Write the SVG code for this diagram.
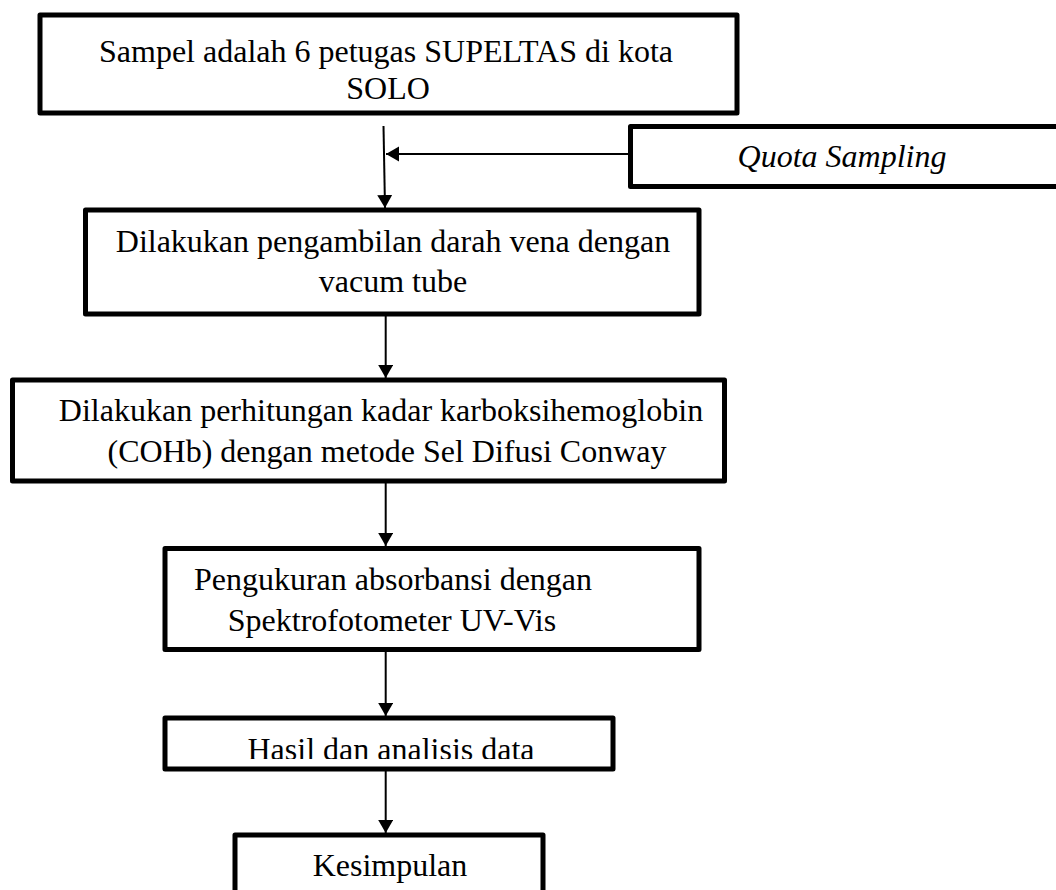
<svg xmlns="http://www.w3.org/2000/svg" width="1056" height="890" viewBox="0 0 1056 890">
<style>
.box{fill:#fff;stroke:#000;stroke-width:5;stroke-linejoin:round}
.t{font-family:"Liberation Serif","Times New Roman",serif;font-size:32px;fill:#000;text-anchor:middle}
.it{font-style:italic}
.c{stroke:#000;stroke-width:2;fill:none;marker-end:url(#ah)}
</style>
<defs>
<marker id="ah" markerUnits="userSpaceOnUse" markerWidth="14" markerHeight="16" refX="13" refY="7.5" orient="auto">
<path d="M0,0 L13,7.5 L0,15 z" fill="#000"/>
</marker>
<clipPath id="clipHasil"><rect x="160" y="700" width="460" height="59"/></clipPath>
</defs>
<rect width="1056" height="890" fill="#fff"/>
<g id="connectors">
<line class="c" x1="383.5" y1="126" x2="385" y2="208"/>
<line class="c" x1="628" y1="154" x2="386" y2="154"/>
<line class="c" x1="385.7" y1="316" x2="385.7" y2="378"/>
<line class="c" x1="385.7" y1="483" x2="385.7" y2="546"/>
<line class="c" x1="385.7" y1="651" x2="385.7" y2="716"/>
<line class="c" x1="385.7" y1="771" x2="385.7" y2="833"/>
</g>
<g id="n1">
<rect class="box" x="40" y="15" width="697" height="98"/>
<text class="t" x="386" y="62">Sampel adalah 6 petugas SUPELTAS di kota</text>
<text class="t" x="388" y="99">SOLO</text>
</g>
<g id="n_quota">
<rect class="box" x="630.5" y="126.5" width="450" height="60"/>
<text class="t it" x="842" y="167">Quota Sampling</text>
</g>
<g id="n2">
<rect class="box" x="85.5" y="210" width="613.5" height="104"/>
<text class="t" x="393" y="252">Dilakukan pengambilan darah vena dengan</text>
<text class="t" x="393" y="292">vacum tube</text>
</g>
<g id="n3">
<rect class="box" x="12.5" y="380" width="712" height="101"/>
<text class="t" x="381" y="421">Dilakukan perhitungan kadar karboksihemoglobin</text>
<text class="t" x="387" y="462">(COHb) dengan metode Sel Difusi Conway</text>
</g>
<g id="n4">
<rect class="box" x="165" y="548.5" width="534" height="101"/>
<text class="t" x="393" y="590">Pengukuran absorbansi dengan</text>
<text class="t" x="392" y="631">Spektrofotometer UV-Vis</text>
</g>
<g id="n5">
<rect class="box" x="165" y="718" width="448" height="51"/>
<text class="t" x="391" y="760" clip-path="url(#clipHasil)">Hasil dan analisis data</text>
</g>
<g id="n6">
<rect class="box" x="235" y="835" width="308" height="80"/>
<text class="t" x="390" y="876">Kesimpulan</text>
</g>
</svg>
